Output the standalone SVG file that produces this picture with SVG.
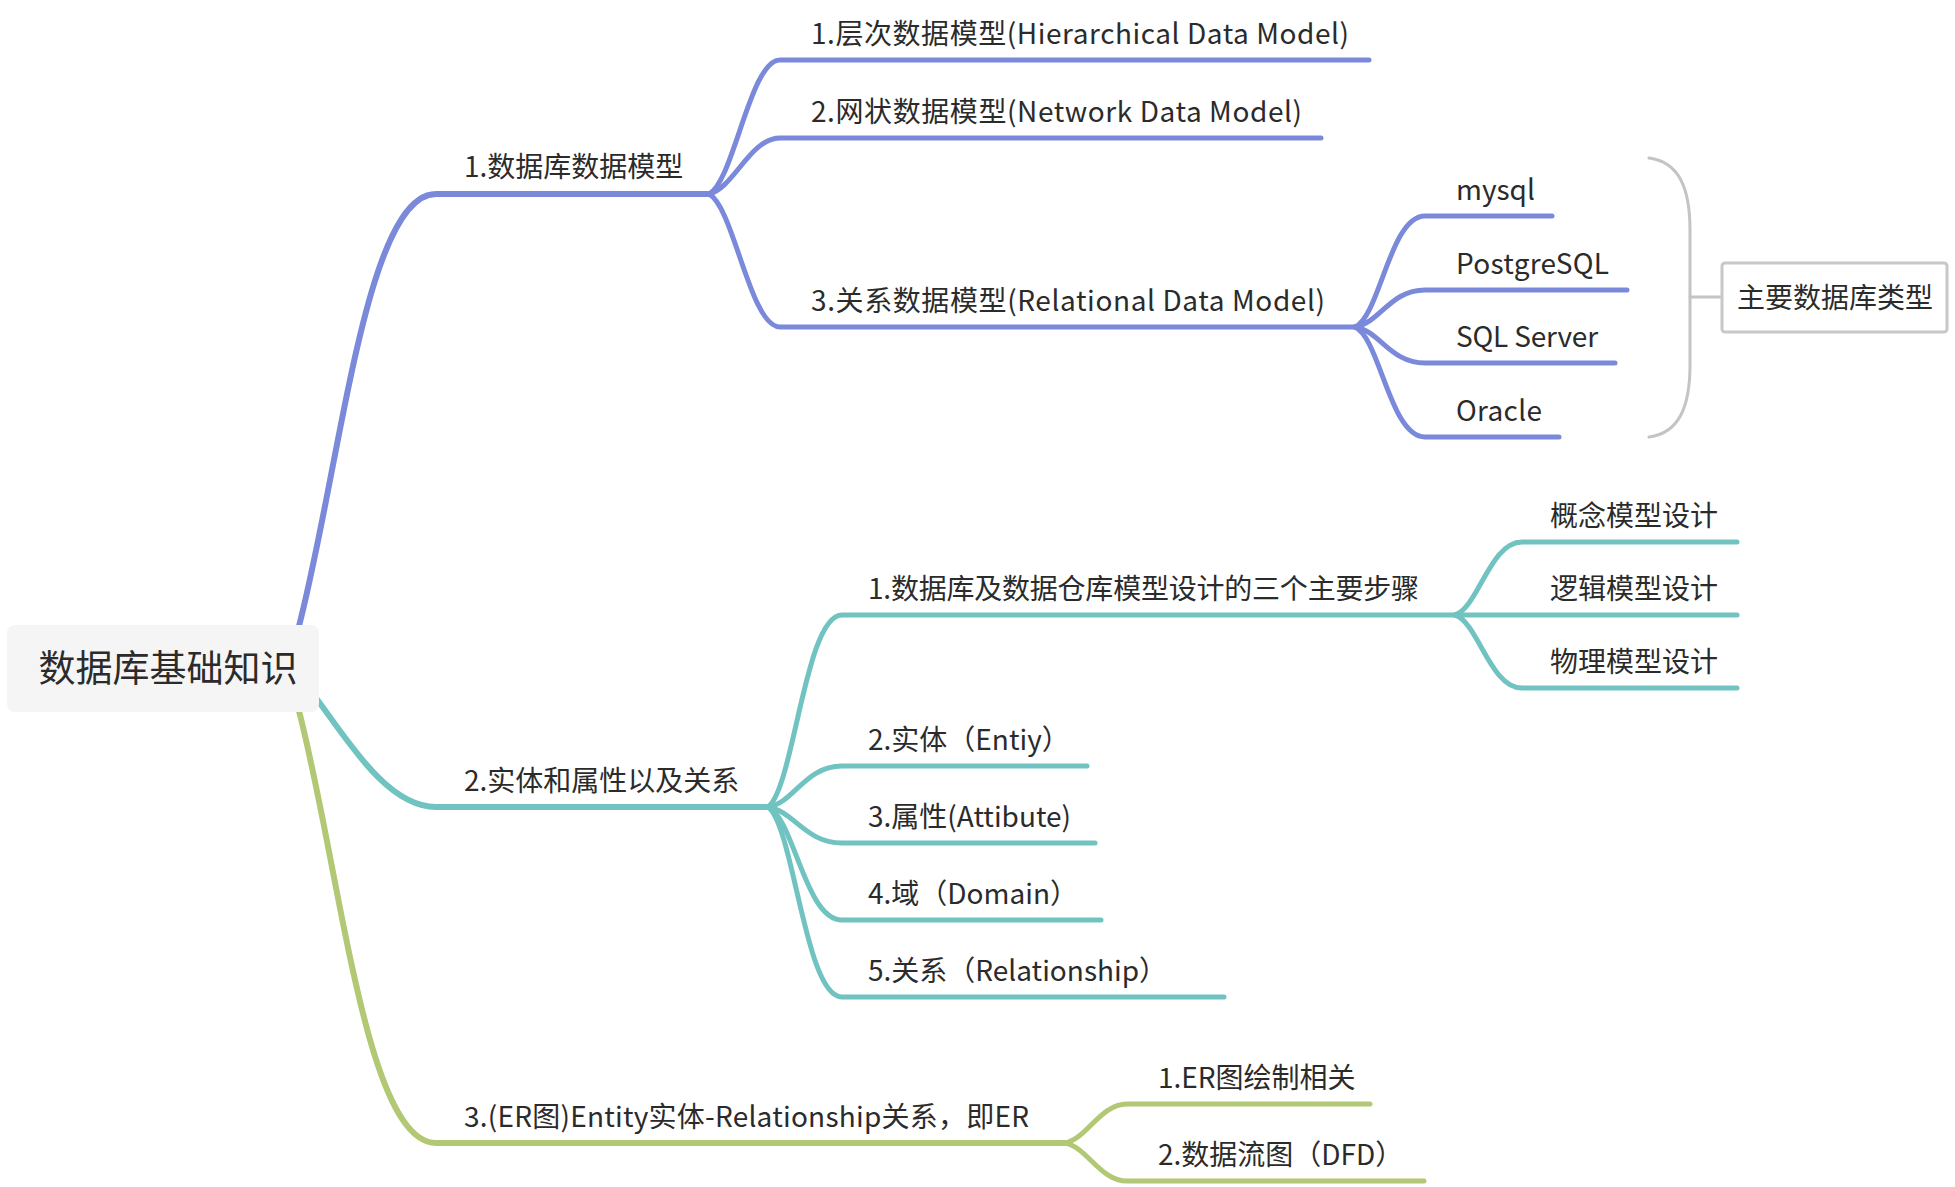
<svg xmlns="http://www.w3.org/2000/svg" width="1955" height="1187" viewBox="0 0 1955 1187">
<style>
text{font-family:"Noto Sans CJK SC","Noto Sans",sans-serif;fill:#2b2b2b;font-size:28px}
.c path{fill:none;stroke-linecap:round;stroke-linejoin:round}
.b{stroke:#7b89db}
.t{stroke:#70c3c1}
.g{stroke:#b3c874}
.m{stroke-width:6}
.l{stroke-width:5}
.br{fill:none;stroke:#c4c4c4;stroke-width:3;stroke-linecap:round}
</style>
<rect width="1955" height="1187" fill="#ffffff"/>
<g id="connectors" class="c">
<path class="b m" d="M298 630 C340 470 365 194 436 194 L709 194"/>
<path class="b l" d="M709 194 C734 181 750 60 780 60 L1369 60"/>
<path class="b l" d="M709 194 C734 188 750 138 780 138 L1321 138"/>
<path class="b l" d="M709 194 C734 207 750 327 780 327 L1355 327"/>
<path class="b l" d="M1355 327 C1380 316 1390 216 1425 216 L1552 216"/>
<path class="b l" d="M1355 327 C1380 323 1390 290 1425 290 L1627 290"/>
<path class="b l" d="M1355 327 C1380 331 1390 363 1425 363 L1615 363"/>
<path class="b l" d="M1355 327 C1380 338 1390 437 1425 437 L1559 437"/>
<path class="t m" d="M310 690 C345 735 385 807 436 807 L768 807"/>
<path class="t l" d="M768 807 C794 788 805 615 842 615 L1455 615"/>
<path class="t l" d="M768 807 C794 803 805 766 842 766 L1087 766"/>
<path class="t l" d="M768 807 C794 811 805 843 842 843 L1095 843"/>
<path class="t l" d="M768 807 C794 818 805 920 842 920 L1101 920"/>
<path class="t l" d="M768 807 C794 826 805 997 842 997 L1224 997"/>
<path class="t l" d="M1455 615 C1478 608 1490 542 1522 542 L1737 542"/>
<path class="t l" d="M1455 615 L1737 615"/>
<path class="t l" d="M1455 615 C1478 622 1490 688 1522 688 L1737 688"/>
<path class="g m" d="M298 707 C340 867 365 1143 436 1143 L1065 1143"/>
<path class="g l" d="M1065 1143 C1087 1139 1100 1104 1127 1104 L1370 1104"/>
<path class="g l" d="M1065 1143 C1087 1147 1100 1181 1127 1181 L1424 1181"/>
</g>
<g id="root">
<rect x="7" y="625" width="312" height="87" rx="8" fill="#f5f5f5"/>
<text x="168" y="682" text-anchor="middle" style="font-size:37px">数据库基础知识</text>
</g>
<g id="n1"><text x="464" y="177">1.数据库数据模型</text></g>
<g id="n1-1"><text x="811" y="44" textLength="538">1.层次数据模型(Hierarchical Data Model)</text></g>
<g id="n1-2"><text x="811" y="122" textLength="491">2.网状数据模型(Network Data Model)</text></g>
<g id="n1-3"><text x="811" y="311" textLength="514">3.关系数据模型(Relational Data Model)</text></g>
<g id="n1-3-1"><text x="1456" y="200">mysql</text></g>
<g id="n1-3-2"><text x="1456" y="274" textLength="153">PostgreSQL</text></g>
<g id="n1-3-3"><text x="1456" y="347" textLength="142">SQL Server</text></g>
<g id="n1-3-4"><text x="1456" y="421" textLength="86">Oracle</text></g>
<g id="summary">
<path class="br" d="M1649 158 C1680 162 1690 190 1690 230 L1690 365 C1690 405 1680 433 1649 437"/>
<path class="br" d="M1690 297 L1722 297"/>
<rect x="1722" y="263" width="225" height="69" rx="3" fill="#ffffff" stroke="#c8c8c8" stroke-width="3"/>
<text x="1835" y="308" text-anchor="middle">主要数据库类型</text>
</g>
<g id="n2"><text x="464" y="791">2.实体和属性以及关系</text></g>
<g id="n2-1"><text x="868" y="599" textLength="551">1.数据库及数据仓库模型设计的三个主要步骤</text></g>
<g id="n2-1-1"><text x="1550" y="526">概念模型设计</text></g>
<g id="n2-1-2"><text x="1550" y="599">逻辑模型设计</text></g>
<g id="n2-1-3"><text x="1550" y="672">物理模型设计</text></g>
<g id="n2-2"><text x="868" y="750">2.实体（Entiy）</text></g>
<g id="n2-3"><text x="868" y="827">3.属性(Attibute)</text></g>
<g id="n2-4"><text x="868" y="904">4.域（Domain）</text></g>
<g id="n2-5"><text x="868" y="981">5.关系（Relationship）</text></g>
<g id="n3"><text x="464" y="1127" textLength="565">3.(ER图)Entity实体-Relationship关系，即ER</text></g>
<g id="n3-1"><text x="1158" y="1088">1.ER图绘制相关</text></g>
<g id="n3-2"><text x="1158" y="1165">2.数据流图（DFD）</text></g>
</svg>
